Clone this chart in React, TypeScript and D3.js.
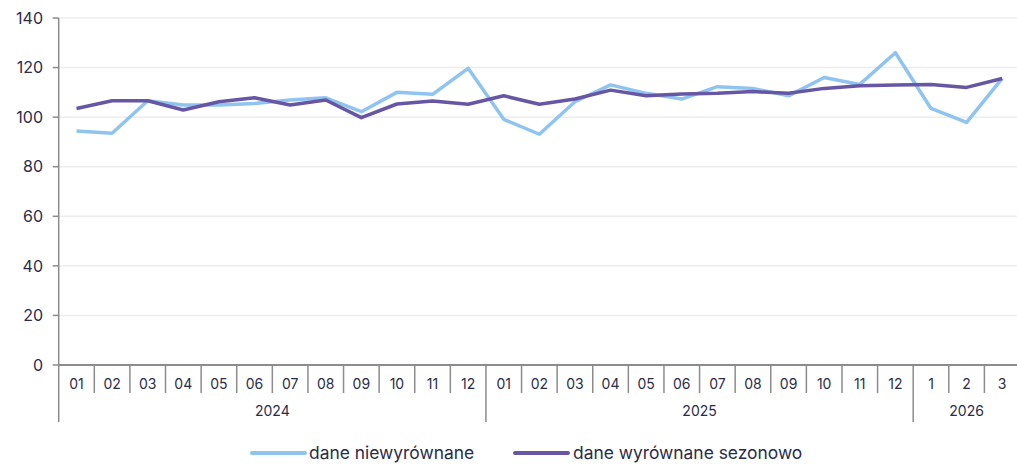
import React from "react";
import * as d3 from "d3";

const years = ["2024", "2025", "2026"];
const months2024 = ["01","02","03","04","05","06","07","08","09","10","11","12"];
const months2025 = ["01","02","03","04","05","06","07","08","09","10","11","12"];
const months2026 = ["1","2","3"];
const yTicks = [0, 20, 40, 60, 80, 100, 120, 140];

const unadjusted = [
  94.4, 93.5, 106.6, 104.9, 104.9, 105.5, 106.9, 107.8, 102.2, 110.0, 109.2, 119.7,
  99.1, 93.1, 106.2, 113.0, 109.6, 107.3, 112.3, 111.6, 108.6, 116.0, 113.2, 126.0,
  103.5, 97.9, 115.6,
];
const adjusted = [
  103.5, 106.6, 106.6, 102.9, 106.2, 107.8, 104.9, 106.9, 99.8, 105.3, 106.5, 105.2,
  108.6, 105.2, 107.3, 110.9, 108.6, 109.3, 109.6, 110.3, 109.6, 111.6, 112.7, 113.0,
  113.2, 112.0, 115.6,
];
const seriesNames = ["dane niewyrównane", "dane wyrównane sezonowo"];

export default function App() {
  const W = 1017, H = 464;
  const left = 58.7, right = 1020, top = 18, bottom = 365;
  const groups = [
    { year: years[0], months: months2024 },
    { year: years[1], months: months2025 },
    { year: years[2], months: months2026 },
  ];
  const cats: { key: string; label: string; g: number }[] = [];
  groups.forEach((g, gi) => g.months.forEach((m) => cats.push({ key: g.year + "-" + m, label: m, g: gi })));
  const x = d3.scaleBand<string>().domain(cats.map((c) => c.key)).range([left, right]).padding(0);
  const y = d3.scaleLinear().domain([0, 140]).range([bottom, top]);
  const cx = (i: number) => (x(cats[i].key) as number) + x.bandwidth() / 2;
  const line = d3.line<number>().x((_, i) => cx(i)).y((v) => y(v));
  const textColor = "#2a2c4b";
  const axisColor = "#8c8c8c";
  const light = "#8ec4ef";
  const dark = "#6656a4";
  const font = "Inter, 'Noto Sans', sans-serif";

  let start = 0;
  const groupSpans = groups.map((g) => {
    const s = start;
    start += g.months.length;
    return { year: g.year, s, e: start };
  });

  return (
    <svg width={W} height={H} style={{ position: "absolute", left: 0, top: 0 }} fontFamily={font}>
      {yTicks.map((t) => (
        <g key={t}>
          {t > 0 && <line x1={left} x2={right} y1={y(t)} y2={y(t)} stroke="#ececec" strokeWidth={1.5} />}
          <line x1={left - 6} x2={left} y1={y(t)} y2={y(t)} stroke={axisColor} strokeWidth={1.5} />
          <text x={43} y={y(t)} dy="0.36em" textAnchor="end" fontSize={16} fill={textColor}>{t}</text>
        </g>
      ))}
      <line x1={left} x2={left} y1={top} y2={422} stroke={axisColor} strokeWidth={1.5} />
      <line x1={left} x2={right} y1={bottom} y2={bottom} stroke={axisColor} strokeWidth={2} />
      {cats.map((c, i) => (
        <g key={c.key}>
          {i > 0 && (
            <line
              x1={x(c.key) as number} x2={x(c.key) as number}
              y1={bottom} y2={cats[i - 1].g !== c.g ? 422 : 393}
              stroke={axisColor} strokeWidth={1.5}
            />
          )}
          <text x={cx(i)} y={384} dy="0.36em" textAnchor="middle" fontSize={14} fill={textColor}>{c.label}</text>
        </g>
      ))}
      {groupSpans.map((g) => (
        <text key={g.year}
          x={((x(cats[g.s].key) as number) + (x(cats[g.e - 1].key) as number) + x.bandwidth()) / 2}
          y={411} dy="0.36em" textAnchor="middle" fontSize={14} fill={textColor}>{g.year}</text>
      ))}
      <path d={line(unadjusted) || ""} fill="none" stroke={light} strokeWidth={3.5} strokeLinejoin="round" />
      <path d={line(adjusted) || ""} fill="none" stroke={dark} strokeWidth={3.5} strokeLinejoin="round" />
      <g>
        <line x1={252} x2={305} y1={453} y2={453} stroke={light} strokeWidth={4} strokeLinecap="round" />
        <text x={309} y={453} dy="0.36em" fontSize={17.4} fill={textColor}>{seriesNames[0]}</text>
        <line x1={515} x2={568} y1={453} y2={453} stroke={dark} strokeWidth={4} strokeLinecap="round" />
        <text x={573} y={453} dy="0.36em" fontSize={17.4} fill={textColor}>{seriesNames[1]}</text>
      </g>
    </svg>
  );
}
